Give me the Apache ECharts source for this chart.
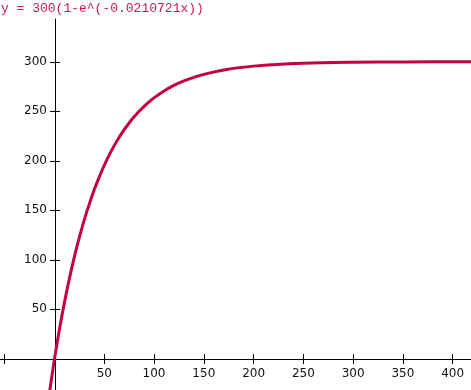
<!DOCTYPE html>
<html>
<head>
<meta charset="utf-8">
<script src="https://cdn.jsdelivr.net/npm/echarts@6/dist/echarts.min.js"></script>
<style>html,body{margin:0;padding:0;background:#fff}#c{width:471px;height:390px}</style>
</head>
<body>
<div id="c"></div>
<script>
const titleText = "y = 300(1-e^(-0.0210721x))";
const xValues = [-6, 0, 5, 10, 15, 20, 25, 30, 35, 40, 45, 50, 55, 60, 65, 70, 75, 80, 85, 90, 95, 100, 110, 120, 130, 140, 150, 170, 200, 250, 300, 350, 420];
const yValues = [-40.4, 0, 30.0, 57.0, 81.3, 103.2, 122.9, 140.6, 156.5, 170.9, 183.8, 195.4, 205.9, 215.3, 223.7, 231.4, 238.2, 244.4, 250.0, 255.0, 259.5, 263.5, 270.5, 276.1, 280.6, 284.3, 287.3, 291.7, 295.6, 298.5, 299.5, 299.8, 300.0];
const xTicks = [-50, 50, 100, 150, 200, 250, 300, 350, 400];
const xLabels = [50, 100, 150, 200, 250, 300, 350, 400];
const yTicks = [-50, 50, 100, 150, 200, 250, 300];
const yLabels = [50, 100, 150, 200, 250, 300];

const data = xValues.map((x, i) => [x, yValues[i]]);
const chart = echarts.init(document.getElementById('c'), null, {renderer: 'canvas'});
const labelStyle = {color: '#111', fontFamily: 'DejaVu Sans', fontSize: 12};
const lineStyle = {color: '#000', width: 1};
chart.setOption({
  animation: false,
  backgroundColor: '#fff',
  title: {
    text: titleText, left: -4, top: -3,
    textStyle: {fontFamily: 'Liberation Mono', fontSize: 13, fontWeight: 'normal', color: '#cc1a55'}
  },
  grid: {left: 0, right: 0, top: 19, bottom: 0, containLabel: false, outerBoundsMode: 'none'},
  xAxis: [
    {type: 'value', min: -54.75, max: 418.4, position: 'bottom', offset: -31,
     axisLine: {onZero: false, lineStyle: lineStyle},
     axisTick: {show: true, inside: false, length: 5, customValues: xTicks, lineStyle: lineStyle},
     axisLabel: {show: true, margin: 9, customValues: xLabels, ...labelStyle},
     splitLine: {show: false}},
    {type: 'value', min: -54.75, max: 418.4, position: 'top', offset: -340,
     axisLine: {onZero: false, show: false},
     axisTick: {show: true, inside: false, length: 5, customValues: xTicks, lineStyle: lineStyle},
     axisLabel: {show: false},
     splitLine: {show: false}}
  ],
  yAxis: [
    {type: 'value', min: -31.5, max: 343.2, position: 'left', offset: -55,
     axisLine: {onZero: false, lineStyle: lineStyle},
     axisTick: {show: true, inside: false, length: 5, customValues: yTicks, lineStyle: lineStyle},
     axisLabel: {show: true, margin: 8, customValues: yLabels, ...labelStyle},
     splitLine: {show: false}},
    {type: 'value', min: -31.5, max: 343.2, position: 'right', offset: -416,
     axisLine: {onZero: false, show: false},
     axisTick: {show: true, inside: false, length: 5, customValues: yTicks, lineStyle: lineStyle},
     axisLabel: {show: false},
     splitLine: {show: false}}
  ],
  series: [{
    type: 'line', xAxisIndex: 0, yAxisIndex: 0, data: data,
    smooth: 0.3, showSymbol: false, symbol: 'none', clip: true,
    lineStyle: {color: '#c4003f', width: 3}
  }]
});
</script>
</body>
</html>
